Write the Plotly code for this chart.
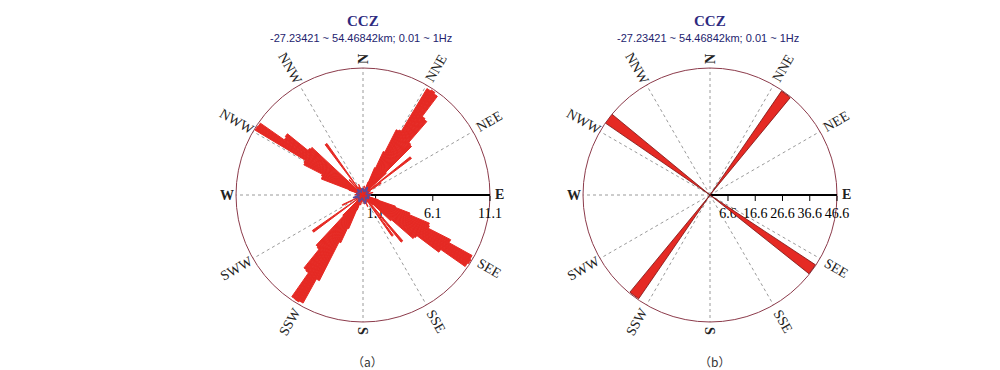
import math
import plotly.graph_objects as go

# ---------------- data ----------------
title_text = "CCZ"
subtitle_text = "-27.23421 ~ 54.46842km; 0.01 ~ 1Hz"
captions = ["（a）", "（b）"]

direction_labels = ["N", "NNE", "NEE", "E", "SEE", "SSE", "S", "SSW", "SWW", "W", "NWW", "NNW"]
direction_angles = [0, 30, 60, 90, 120, 150, 180, 210, 240, 270, 300, 330]

# (a) rose histogram, 2-degree bins (bin centres in degrees clockwise from N)
left_theta = [0, 4, 8, 12,
              20, 22, 24, 26, 28, 30, 32, 34, 36, 38, 40, 42, 44, 46, 48, 50, 52, 54, 56,
              64, 70, 76, 84, 94, 100,
              106, 108, 110, 112, 114, 116, 118, 120, 122, 124, 126, 128, 130, 132, 134, 136,
              138, 140, 142, 144, 146,
              152, 158, 164, 172, 180, 188, 194,
              200, 202, 204, 206, 208, 210, 212, 214, 216, 218, 220, 222, 224, 226, 228, 230,
              232, 234, 236,
              244, 256, 264, 272, 278,
              286, 288, 290, 292, 294, 296, 298, 300, 302, 304, 306, 308, 310, 312, 314, 316,
              318, 320, 322, 324, 326,
              332, 338, 346, 354]
left_r = [0.6, 0.4, 0.8, 0.5,
          0.5, 1.2, 2.6, 4.2, 6.4, 6.5, 10.85, 10.95, 10.8, 8.6, 8.5, 6.1, 6.0, 2.8, 0.8, 0.3, 5.3, 0.4, 1.9,
          0.7, 0.5, 0.9, 0.4, 0.6, 0.5,
          0.6, 1.4, 3.0, 4.4, 6.3, 6.4, 8.6, 10.9, 11.0, 10.9, 8.3, 5.9, 5.8, 3.3, 1.2, 0.4,
          0.3, 5.3, 0.3, 4.4, 0.4,
          0.7, 1.1, 0.6, 0.8, 0.5, 0.6, 0.9,
          0.5, 1.4, 3.2, 4.6, 8.4, 10.8, 10.9, 10.85, 8.3, 8.2, 6.1, 6.0, 2.5, 0.8, 0.3, 0.4,
          0.3, 5.4, 0.4,
          2.0, 0.6, 0.5, 0.7, 0.6,
          0.4, 0.7, 1.3, 3.9, 3.9, 4.0, 5.8, 5.9, 11.0, 10.95, 8.4, 8.5, 6.2, 6.1, 0.6, 0.3,
          1.8, 0.4, 0.3, 5.5, 0.5,
          0.8, 1.0, 0.6, 0.5]
left_bin_width = 2
left_range_max = 11.1
left_tickvals = [1.1, 6.1, 11.1]

# small purple outline around the centre of (a)
center_theta = [0, 15, 30, 45, 60, 75, 90, 105, 120, 135, 150, 165, 180,
                195, 210, 225, 240, 255, 270, 285, 300, 315, 330, 345, 360]
center_r = [0.6, 0.3, 0.8, 0.4, 0.5, 0.3, 0.7, 0.4, 0.6, 0.3, 0.5, 0.8, 0.4,
            0.3, 0.7, 0.5, 0.4, 0.9, 0.3, 0.6, 0.4, 0.7, 0.3, 0.5, 0.6]

# (b) four dominant directions
right_theta = [37, 126, 217, 307]
right_r = [46.3, 46.4, 46.2, 46.6]
right_bin_width = 5
right_range_max = 46.6
right_tickvals = [6.6, 16.6, 26.6, 36.6, 46.6]

# ---------------- layout geometry ----------------
W, H = 1000, 370
RAD = 127
centers = [(355, 187), (702, 187)]
SERIF = "Liberation Serif"
SANS = "Liberation Sans"
RED = "#e52a24"


def domain(cx, cy):
    return dict(x=[(cx - RAD) / W, (cx + RAD) / W],
                y=[(H - cy - RAD) / H, (H - cy + RAD) / H])


def polar_layout(cx, cy, rmax, tickvals):
    return dict(
        domain=domain(cx, cy),
        bgcolor="white",
        angularaxis=dict(
            rotation=90, direction="clockwise",
            tickmode="array", tickvals=direction_angles,
            showticklabels=False, ticks="",
            showgrid=True, gridcolor="#9a9a9a", griddash="dot", gridwidth=1,
            showline=True, linecolor="#8c3b4b", linewidth=1,
            layer="below traces",
        ),
        radialaxis=dict(
            range=[0, rmax], angle=0, side="clockwise",
            tickmode="array", tickvals=tickvals, ticktext=[f"{v:g}" for v in tickvals],
            ticks="outside", ticklen=5, tickwidth=1, tickcolor="black",
            tickfont=dict(family=SERIF, size=14, color="black"),
            showgrid=False, showline=True, linecolor="black", linewidth=2,
            layer="below traces",
        ),
    )


fig = go.Figure()

fig.add_trace(go.Barpolar(
    r=left_r, theta=left_theta, width=[left_bin_width] * len(left_r),
    marker=dict(color=RED, line=dict(width=1, color=RED)),
    subplot="polar", showlegend=False,
))
fig.add_trace(go.Scatterpolar(
    r=center_r, theta=center_theta, mode="lines",
    line=dict(color="#5b4a9a", width=1.5),
    subplot="polar", showlegend=False,
))
fig.add_trace(go.Barpolar(
    r=right_r, theta=right_theta, width=[right_bin_width] * len(right_r),
    marker=dict(color=RED, line=dict(width=0.8, color="#7a1010")),
    subplot="polar2", showlegend=False,
))

annotations = []
for (cx, cy), cap in zip(centers, captions):
    # titles
    annotations.append(dict(
        text="<b>" + title_text + "</b>", x=cx / W, y=(H - 13) / H,
        xref="paper", yref="paper", showarrow=False, xanchor="center", yanchor="middle",
        font=dict(family=SERIF, size=15, color="#2e2a80")))
    annotations.append(dict(
        text=subtitle_text, x=(cx - 2) / W, y=(H - 30) / H,
        xref="paper", yref="paper", showarrow=False, xanchor="center", yanchor="middle",
        font=dict(family=SANS, size=11, color="#23236e")))
    # caption
    annotations.append(dict(
        text=cap, x=(cx + 4) / W, y=(H - 353) / H,
        xref="paper", yref="paper", showarrow=False, xanchor="center", yanchor="middle",
        font=dict(family="Noto Sans CJK SC", size=12, color="#333333")))
    # direction labels
    for lab, ang in zip(direction_labels, direction_angles):
        rp = 131 + 5 * len(lab)
        a = math.radians(ang)
        tang = ang - 90 if ang <= 180 else ang - 270
        txt = "<b>" + lab + "</b>" if len(lab) == 1 else lab
        annotations.append(dict(
            text=txt, x=(cx + rp * math.sin(a)) / W, y=(H - cy + rp * math.cos(a)) / H,
            xref="paper", yref="paper", showarrow=False, xanchor="center", yanchor="middle",
            textangle=tang,
            font=dict(family=SERIF, size=14, color="#222222")))

fig.update_layout(
    width=W, height=H,
    margin=dict(l=0, r=0, t=0, b=0),
    paper_bgcolor="white",
    plot_bgcolor="white",
    polar=polar_layout(*centers[0], left_range_max, left_tickvals),
    polar2=polar_layout(*centers[1], right_range_max, right_tickvals),
    annotations=annotations,
    showlegend=False,
)

fig.write_html("out.html")
